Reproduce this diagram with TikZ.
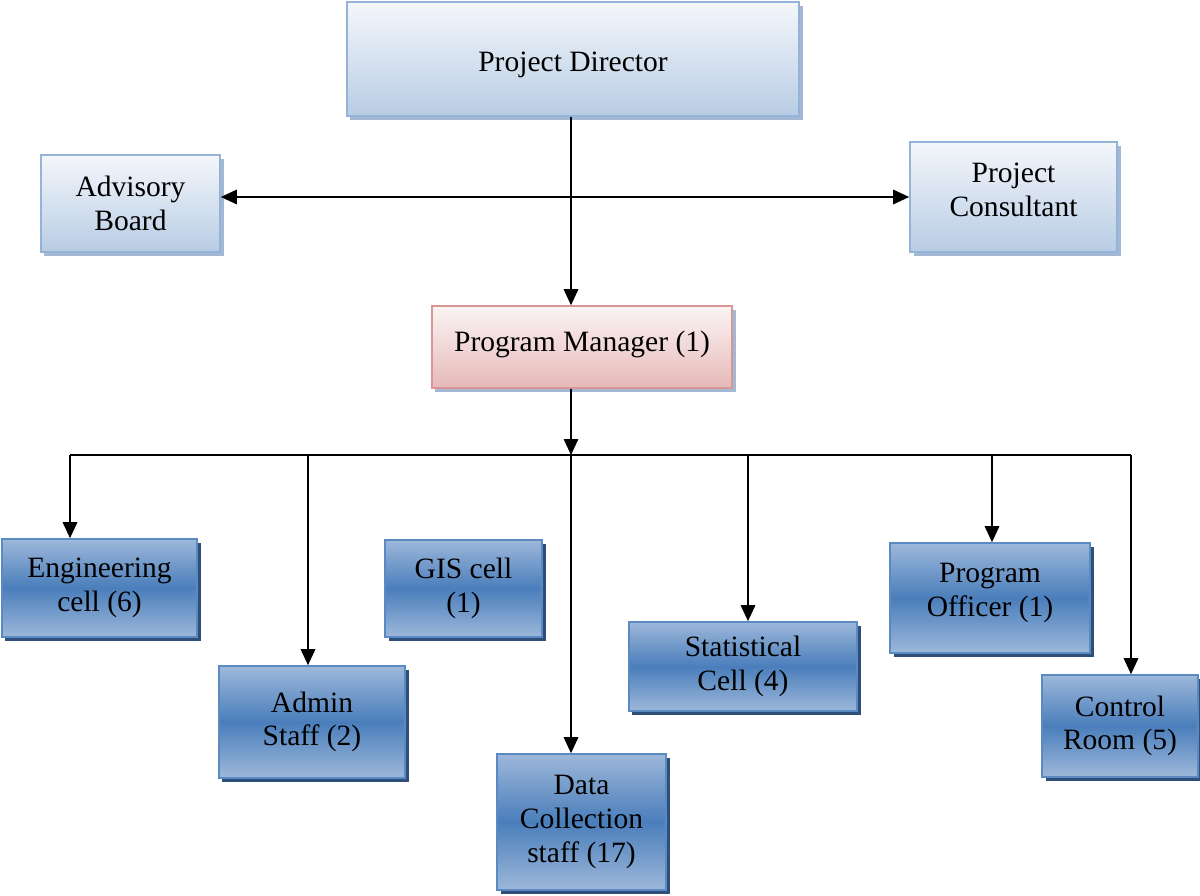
\documentclass[tikz,border=0pt]{standalone}
\usepackage{fontspec}
\setmainfont{Liberation Serif}
\usetikzlibrary{arrows.meta,shadows}
\definecolor{paleline}{HTML}{95B3D7}
\definecolor{paletop}{HTML}{F4F7FB}
\definecolor{palebot}{HTML}{B8CCE4}
\definecolor{paleshade}{HTML}{A3B8D4}
\definecolor{pinkline}{HTML}{D99694}
\definecolor{pinktop}{HTML}{FCF4F4}
\definecolor{pinkbot}{HTML}{E6B9B8}
\definecolor{unitline}{HTML}{5B8AC3}
\definecolor{unitlight}{HTML}{9DB8DA}
\definecolor{unitmid}{HTML}{4A7EBB}
\definecolor{unitshade}{HTML}{2E4F7A}
\tikzset{
  orgtip/.tip={Triangle[length=0.4cm,width=0.36cm]},
  orgbox/.style={draw, rectangle, line width=1.1pt, inner sep=0pt, align=center,
    font=\fontsize{21}{24}\selectfont},
  topbox/.style={orgbox, draw=paleline, top color=paletop, bottom color=palebot,
    general shadow={fill=paleshade, shadow xshift=2.5pt, shadow yshift=-2.5pt}},
  mgrbox/.style={orgbox, draw=pinkline, top color=pinktop, bottom color=pinkbot,
    general shadow={fill=paleshade, shadow xshift=2.5pt, shadow yshift=-2.5pt}},
  unitbox/.style={orgbox, draw=unitline, top color=unitlight, bottom color=unitlight,
    middle color=unitmid,
    general shadow={fill=unitshade, shadow xshift=2.5pt, shadow yshift=-2.5pt}},
  link/.style={line width=1.3pt, -{orgtip}}
}
\begin{document}
\begin{tikzpicture}[x=0.025cm,y=-0.025cm]
\useasboundingbox (0,0) rectangle (1200,895);
% top level
\node[topbox, minimum width=11.3cm, minimum height=2.85cm, text height=0.8cm] (pd) at (573,59) {Project Director};
\node[topbox, minimum width=4.475cm, minimum height=2.425cm] (ab) at (130.5,203.5) {Advisory\\Board};
\node[topbox, minimum width=5.175cm, minimum height=2.75cm, text depth=0.35cm] (pc) at (1013.5,197) {Project\\Consultant};
\node[mgrbox, minimum width=7.5cm, minimum height=2.05cm, text depth=0.3cm] (pm) at (582,347) {Program Manager (1)};
% units
\node[unitbox, minimum width=4.875cm, minimum height=2.45cm] (eng) at (99.5,588) {Engineering\\cell (6)};
\node[unitbox, minimum width=4.65cm, minimum height=2.8cm] (adm) at (312,722) {Admin\\Staff (2)};
\node[unitbox, minimum width=3.925cm, minimum height=2.425cm] (gis) at (463.5,588.5) {GIS cell\\(1)};
\node[unitbox, minimum width=4.225cm, minimum height=3.4cm] (dcs) at (581.5,822) {Data\\Collection\\staff (17)};
\node[unitbox, minimum width=5.7cm, minimum height=2.225cm] (stc) at (743,666.5) {Statistical\\Cell (4)};
\node[unitbox, minimum width=5cm, minimum height=2.75cm, text depth=0.4cm] (po) at (990,598) {Program\\Officer (1)};
\node[unitbox, minimum width=3.9cm, minimum height=2.55cm] (cr) at (1120,726) {Control\\Room (5)};
% links
\coordinate (bus) at (571,455);
\draw[link] (pd.south -| bus) -- (pm.north -| bus);
\draw[link, {orgtip}-{orgtip}] (ab.east |- pc.west) -- (pc.west);
\draw[link] (pm.south -| bus) -- (bus);
\draw[line width=1.3pt] (70,455) -- (1131,455);
\foreach \n/\x in {eng/70, adm/308, dcs/571, stc/748, po/992, cr/1131}
  \draw[link] (\x,455) -- (\n.north -| \x,455);
\end{tikzpicture}
\end{document}
